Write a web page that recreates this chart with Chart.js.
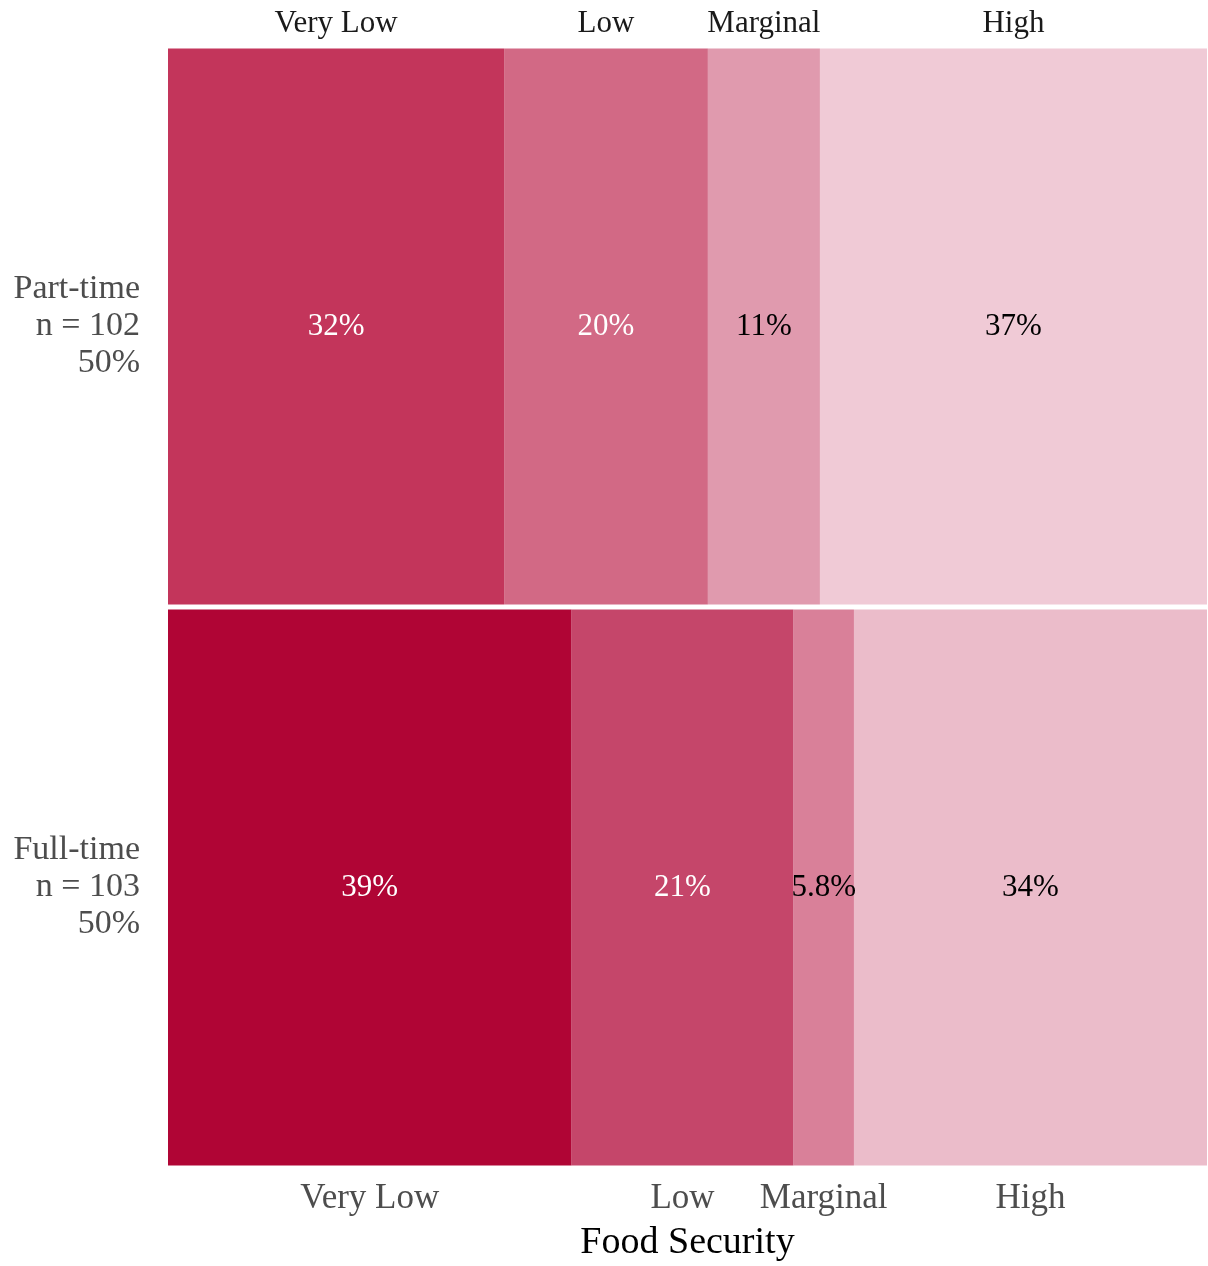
<!DOCTYPE html>
<html>
<head>
<meta charset="utf-8">
<script src="https://cdn.jsdelivr.net/npm/chart.js@4"></script>
<style>
  html, body { margin: 0; padding: 0; background: #fff; }
  #wrap { width: 1208px; height: 1266px; position: relative; }
</style>
</head>
<body>
<div id="wrap"><canvas id="mosaico"></canvas></div>
<script>
// ─── dados ───
var grupos = ['Part-time', 'Full-time'];
var niveis = ['Very Low', 'Low', 'Marginal', 'High'];
var contPartTime = [33, 20, 11, 38];   // n = 102
var contFullTime = [40, 22, 6, 35];    // n = 103
var coresPartTime = ['#C3355B', '#D26985', '#E09AAE', '#F0CAD6'];
var coresFullTime = ['#B00535', '#C5466A', '#D98099', '#EBBCCA'];
var corTextoValor = ['#FFFFFF', '#FFFFFF', '#000000', '#000000'];

var FONTE = '"Liberation Serif", "Times New Roman", serif';

function soma(a) { return a.reduce(function(s, v) { return s + v; }, 0); }
var nPT = soma(contPartTime), nFT = soma(contFullTime), nTot = nPT + nFT;
var pctPT = contPartTime.map(function(c) { return c / nPT * 100; });
var pctFT = contFullTime.map(function(c) { return c / nFT * 100; });

// centro de cada segmento (para os rótulos dos eixos)
function centros(pcts) {
  var acum = 0;
  return pcts.map(function(p) { var c = acum + p / 2; acum += p; return c; });
}
var centrosPT = centros(pctPT);
var centrosFT = centros(pctFT);

var rotulosY = {
  'Part-time': ['Part-time', 'n = ' + nPT, Math.round(nPT / nTot * 100) + '%'],
  'Full-time': ['Full-time', 'n = ' + nFT, Math.round(nFT / nTot * 100) + '%']
};

var datasets = niveis.map(function(nv, i) {
  return {
    label: nv,
    data: [pctPT[i], pctFT[i]],
    backgroundColor: [coresPartTime[i], coresFullTime[i]],
    borderWidth: 0,
    xAxisID: 'x',
    categoryPercentage: 1,
    barPercentage: 0.991
  };
});

// rótulos de percentagem dentro dos blocos
var pluginValores = {
  id: 'valores',
  afterDatasetsDraw: function(chart) {
    var ctx = chart.ctx;
    ctx.save();
    ctx.font = '31px ' + FONTE;
    ctx.textAlign = 'center';
    ctx.textBaseline = 'middle';
    chart.data.datasets.forEach(function(ds, i) {
      var meta = chart.getDatasetMeta(i);
      meta.data.forEach(function(bar, j) {
        var v = ds.data[j];
        ctx.fillStyle = corTextoValor[i];
        ctx.fillText(Number(v.toPrecision(2)) + '%', (bar.x + bar.base) / 2, bar.y);
      });
    });
    ctx.restore();
  }
};

new Chart(document.getElementById('mosaico').getContext('2d'), {
  type: 'bar',
  data: { labels: grupos, datasets: datasets },
  plugins: [pluginValores],
  options: {
    indexAxis: 'y',
    responsive: true,
    maintainAspectRatio: false,
    animation: false,
    layout: { padding: { left: 0, right: 1, top: 0, bottom: 0 } },
    plugins: { legend: { display: false }, tooltip: { enabled: false } },
    scales: {
      y: {
        type: 'category',
        stacked: true,
        grid: { display: false, drawTicks: false },
        border: { display: false },
        ticks: {
          color: '#4D4D4D',
          padding: 28,
          font: { family: FONTE, size: 34, lineHeight: 1.09 },
          callback: function(v, i) { return rotulosY[grupos[i]]; }
        },
        afterFit: function(s) { s.width = 168; s.paddingTop = 0; s.paddingBottom = 0; }
      },
      x: {
        type: 'linear',
        position: 'bottom',
        stacked: true,
        min: 0, max: 100,
        grid: { display: false, drawTicks: false },
        border: { display: false },
        afterBuildTicks: function(s) { s.ticks = centrosFT.map(function(c) { return { value: c }; }); },
        ticks: {
          color: '#4D4D4D',
          padding: 10,
          autoSkip: false,
          maxRotation: 0,
          font: { family: FONTE, size: 35 },
          callback: function(v, i) { return niveis[i]; }
        },
        title: {
          display: true,
          text: 'Food Security',
          color: '#000000',
          padding: { top: 0, bottom: 0 },
          font: { family: FONTE, size: 38 }
        },
        afterFit: function(s) { s.height = 98; s.paddingLeft = 0; s.paddingRight = 0; }
      },
      x2: {
        type: 'linear',
        position: 'top',
        min: 0, max: 100,
        grid: { display: false, drawTicks: false },
        border: { display: false },
        afterBuildTicks: function(s) { s.ticks = centrosPT.map(function(c) { return { value: c }; }); },
        ticks: {
          color: '#1A1A1A',
          padding: 4,
          autoSkip: false,
          maxRotation: 0,
          font: { family: FONTE, size: 31 },
          callback: function(v, i) { return niveis[i]; }
        },
        afterFit: function(s) { s.height = 46; s.paddingLeft = 0; s.paddingRight = 0; }
      }
    }
  }
});
</script>
</body>
</html>
